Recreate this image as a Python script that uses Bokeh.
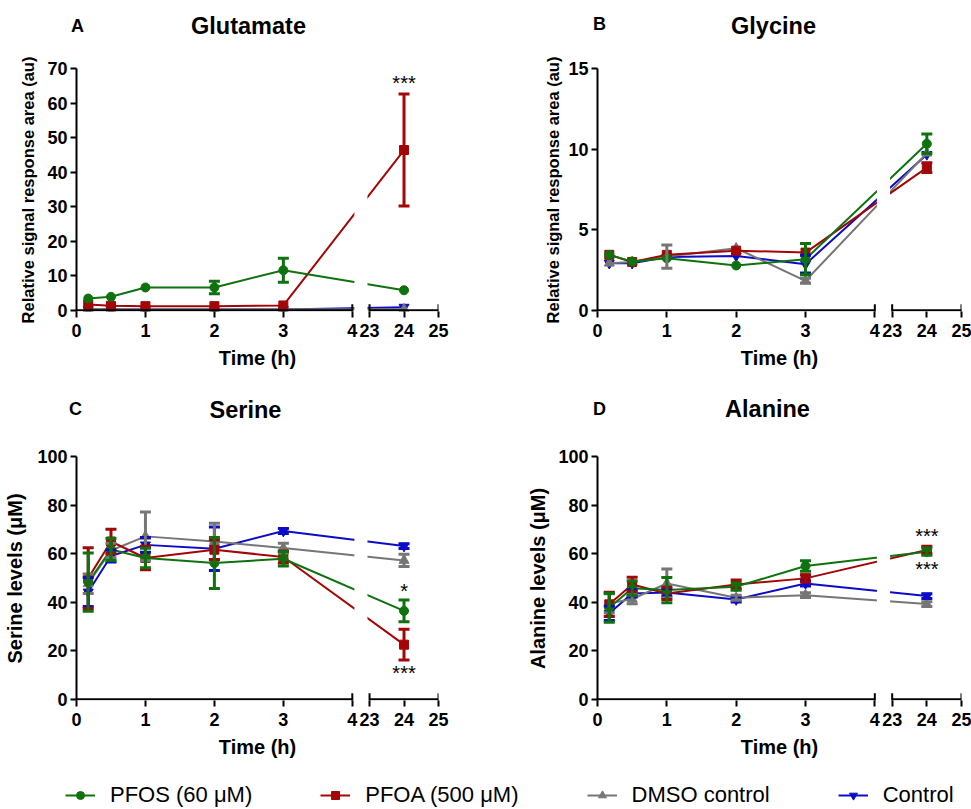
import math
from bokeh.plotting import figure
from bokeh.models import (Range1d, FixedTicker, Whisker, TeeHead,
                          ColumnDataSource, Legend, LegendItem)
from bokeh.layouts import column, row
from bokeh.embed import file_html
from bokeh.resources import INLINE
from bokeh.core.properties import value

FONT = "Liberation Sans"

# ---------------- data ----------------
TIMES = [0.17, 0.5, 1, 2, 3, 24]
X_TICKS = [0, 1, 2, 3, 4, 23, 24, 25]
SERIES = ["PFOS (60 μM)", "PFOA (500 μM)", "DMSO control", "Control"]
COLORS = ["#0e720e", "#a30606", "#767676", "#0c0cc8"]
MARKERS = ["circle", "square", "triangle", "inverted_triangle"]

# Glutamate (au)
glu_pfos = [3.4, 3.9, 6.6, 6.6, 11.6, 5.8]
glu_pfos_err = [0, 0, 0, 1.8, 3.5, 0]
glu_pfoa = [1.7, 1.3, 1.2, 1.2, 1.4, 46.4]
glu_pfoa_err = [0, 0, 0, 0, 0, 16.2]
glu_dmso = [0.3, 0.3, 0.3, 0.3, 0.3, 0.3]
glu_dmso_err = [0, 0, 0, 0, 0, 0]
glu_ctrl = [0.2, 0.2, 0.2, 0.2, 0.2, 0.9]
glu_ctrl_err = [0, 0, 0, 0, 0, 0]

# Glycine (au)
gly_pfos = [3.44, 3.02, 3.23, 2.78, 3.17, 10.33]
gly_pfos_err = [0, 0, 0, 0, 0.97, 0.6]
gly_pfoa = [3.44, 3.0, 3.44, 3.7, 3.58, 8.85]
gly_pfoa_err = [0, 0, 0, 0, 0, 0.3]
gly_dmso = [2.92, 3.0, 3.33, 3.85, 1.83, 9.75]
gly_dmso_err = [0, 0, 0.72, 0, 0.15, 0]
gly_ctrl = [2.92, 2.92, 3.3, 3.37, 2.86, 9.67]
gly_ctrl_err = [0, 0, 0, 0, 0.55, 0]

# Serine (uM)
ser_pfos = [48.3, 61.7, 58.2, 56.1, 57.9, 36.4]
ser_pfos_err = [12, 4.5, 4, 10.5, 3, 4.5]
ser_pfoa = [49.9, 65.0, 58.2, 61.6, 58.6, 22.5]
ser_pfoa_err = [12.5, 5, 4.8, 4, 2.5, 6.3]
ser_dmso = [47.6, 61.3, 67.1, 65.0, 62.3, 57.2]
ser_dmso_err = [4, 3, 10, 7.5, 2, 2.5]
ser_ctrl = [44.2, 59.0, 63.6, 62.0, 69.3, 63.1]
ser_ctrl_err = [6, 2.5, 3, 9, 1, 1]

# Alanine (uM)
ala_pfos = [37.7, 45.7, 45.0, 46.4, 54.9, 60.8]
ala_pfos_err = [6, 3, 5.2, 1.5, 2.2, 1.5]
ala_pfoa = [39.1, 47.3, 43.6, 47.3, 49.8, 61.5]
ala_pfoa_err = [5, 3, 2.5, 1.8, 1.5, 1.5]
ala_dmso = [39.5, 41.3, 47.7, 41.8, 42.9, 39.2]
ala_dmso_err = [4, 2, 6, 1, 1, 1]
ala_ctrl = [35.4, 43.6, 44.0, 41.1, 47.7, 42.5]
ala_ctrl_err = [3, 1.5, 1.5, 1, 1, 1]

# significance marks (time, y, text)
glu_stars = ([24], [66.1], ["***"])
ser_stars = ([24, 24], [45.1, 11.2], ["*", "***"])
ala_stars = ([24, 24], [67.7, 54.2], ["***", "***"])

# panel headings (letter, title)
ROW1_HEAD = ["A", "Glutamate", "B", "Glycine"]
ROW2_HEAD = ["C", "Serine", "D", "Alanine"]

# ---------------- broken time axis ----------------
GAP = 0.25
RSCALE = 0.5


def tx(t):
    return t if t <= 4 else 4 + GAP + (t - 23) * RSCALE


XMAX = tx(25)
FULL_LEFT = 65   # shared left border of the full-width strips (heading/legend)


def make_panel(ylabel, ylabel_size, ylabel_standoff, ymax, yticks,
               series, stars, width, height, bleft, bright, btop, bbottom):
    ystart = -ymax * 0.005
    p = figure(width=width, height=height, x_range=Range1d(0, XMAX),
               y_range=Range1d(ystart, ymax), output_backend="svg",
               toolbar_location=None, min_border_left=bleft,
               min_border_right=bright, min_border_top=btop,
               min_border_bottom=bbottom)
    p.outline_line_color = None
    p.grid.visible = False

    xs = [tx(t) for t in TIMES]
    for i in [3, 2, 1, 0]:
        vals, errs = series[i]
        c = COLORS[i]
        p.line(xs, vals, line_color=c, line_width=2)
        ex = [x for x, e in zip(xs, errs) if e > 0]
        ey = [v for v, e in zip(vals, errs) if e > 0]
        ee = [e for e in errs if e > 0]
        if ex:
            src = ColumnDataSource(dict(x=ex, lo=[v - e for v, e in zip(ey, ee)],
                                        hi=[v + e for v, e in zip(ey, ee)]))
            w = Whisker(source=src, base="x", lower="lo", upper="hi",
                        dimension="height", line_color=c, line_width=3,
                        upper_head=TeeHead(size=11, line_color=c, line_width=3),
                        lower_head=TeeHead(size=11, line_color=c, line_width=3))
            w.level = "glyph"
            p.add_layout(w)
        sz = 9 if MARKERS[i] in ("circle", "square") else 10
        p.scatter(xs, vals, marker=MARKERS[i], size=sz, fill_color=c, line_color=c)

    # white gap through the lines at the axis break
    p.quad(left=[4 + 0.03], right=[4 + GAP - 0.03], bottom=[ystart], top=[ymax],
           fill_color="white", line_color=None)
    # broken x axis line
    p.segment(x0=[0, tx(23)], x1=[4, tx(25)], y0=[0, 0], y1=[0, 0],
              line_color="black", line_width=2)
    p.scatter([4, tx(23), tx(25)], [0, 0, 0], marker="dash", angle=math.pi / 2,
              size=12, line_color="black", line_width=2)

    st, sy, stxt = stars
    if st:
        p.text([tx(t) for t in st], sy, text=stxt, text_align="center",
               text_baseline="middle", text_font=value(FONT),
               text_font_size="20px", text_color="black", y_offset=1)

    xa = p.xaxis[0]
    xa.ticker = FixedTicker(ticks=[tx(t) for t in X_TICKS])
    xa.major_label_overrides = {tx(t): str(t) for t in X_TICKS}
    xa.axis_line_color = None
    xa.major_tick_in = 0
    xa.major_tick_out = 6
    xa.major_tick_line_width = 2
    xa.major_tick_line_color = "black"
    xa.minor_tick_line_color = None
    xa.major_label_text_font = FONT
    xa.major_label_text_font_style = "bold"
    xa.major_label_text_font_size = "18px"
    xa.major_label_text_color = "black"
    xa.major_label_standoff = 6
    xa.axis_label = "Time (h)"
    xa.axis_label_text_font = FONT
    xa.axis_label_text_font_style = "bold"
    xa.axis_label_text_font_size = "20px"
    xa.axis_label_text_color = "black"
    xa.axis_label_standoff = 7

    ya = p.yaxis[0]
    ya.ticker = FixedTicker(ticks=yticks)
    ya.axis_line_width = 2
    ya.axis_line_color = "black"
    ya.major_tick_in = 0
    ya.major_tick_out = 6
    ya.major_tick_line_width = 2
    ya.major_tick_line_color = "black"
    ya.minor_tick_line_color = None
    ya.major_label_text_font = FONT
    ya.major_label_text_font_style = "bold"
    ya.major_label_text_font_size = "18px"
    ya.major_label_text_color = "black"
    ya.major_label_standoff = 3
    ya.axis_label = ylabel
    ya.axis_label_text_font = FONT
    ya.axis_label_text_font_style = "bold"
    ya.axis_label_text_font_size = ylabel_size
    ya.axis_label_text_color = "black"
    ya.axis_label_standoff = ylabel_standoff
    return p


def make_heading(labels, xs, ys, height):
    h = figure(width=971, height=height, x_range=Range1d(FULL_LEFT, 971),
               y_range=Range1d(height, 0), output_backend="svg",
               toolbar_location=None, x_axis_location=None, y_axis_location=None,
               min_border_left=FULL_LEFT, min_border_right=0, min_border_top=0,
               min_border_bottom=0)
    h.outline_line_color = None
    h.grid.visible = False
    sizes = ["18px", "23.5px", "18px", "23.5px"]
    for lab, x, y, s in zip(labels, xs, ys, sizes):
        h.text([x], [y], text=[lab], text_align="center", text_baseline="middle",
               text_font=value(FONT), text_font_style="bold", text_font_size=s,
               text_color="black")
    return h


H1 = make_heading(ROW1_HEAD, [77, 248, 599, 773], [25, 25, 23, 25], 50)

pA = make_panel("Relative signal response area (au)", "16.5px", 7,
                70, list(range(0, 71, 10)),
                [(glu_pfos, glu_pfos_err), (glu_pfoa, glu_pfoa_err),
                 (glu_dmso, glu_dmso_err), (glu_ctrl, glu_ctrl_err)],
                glu_stars, 480, 330, 76, 42, 18, 69)
pB = make_panel("Relative signal response area (au)", "16.5px", 3,
                15, [0, 5, 10, 15],
                [(gly_pfos, gly_pfos_err), (gly_pfoa, gly_pfoa_err),
                 (gly_dmso, gly_dmso_err), (gly_ctrl, gly_ctrl_err)],
                ([], [], []), 491, 330, 117, 10, 18, 69)

H2 = make_heading(ROW2_HEAD, [75, 245, 599, 767], [28, 29, 28, 28], 50)

pC = make_panel("Serine levels (μM)", "20px", 8,
                100, list(range(0, 101, 20)),
                [(ser_pfos, ser_pfos_err), (ser_pfoa, ser_pfoa_err),
                 (ser_dmso, ser_dmso_err), (ser_ctrl, ser_ctrl_err)],
                ser_stars, 480, 332, 76, 42, 26, 62)
pD = make_panel("Alanine levels (μM)", "20px", 6,
                100, list(range(0, 101, 20)),
                [(ala_pfos, ala_pfos_err), (ala_pfoa, ala_pfoa_err),
                 (ala_dmso, ala_dmso_err), (ala_ctrl, ala_ctrl_err)],
                ala_stars, 491, 332, 117, 10, 26, 62)

# ---------------- legend ----------------
pL = figure(width=971, height=46, x_range=Range1d(0, 1), y_range=Range1d(0, 1),
            output_backend="svg", toolbar_location=None, x_axis_location=None,
            y_axis_location=None, min_border_left=FULL_LEFT, min_border_right=0,
            min_border_top=0, min_border_bottom=0)
pL.outline_line_color = None
pL.grid.visible = False
items = []
for i, name in enumerate(SERIES):
    lr = pL.line(x=[-2, -1], y=[-2, -1], line_color=COLORS[i], line_width=2)
    sr = pL.scatter(x=[-2], y=[-2], marker=MARKERS[i], size=9,
                    fill_color=COLORS[i], line_color=COLORS[i])
    items.append(LegendItem(label=name, renderers=[lr, sr]))
leg = Legend(items=items, orientation="horizontal", location="bottom_left",
             spacing=68, glyph_width=30, glyph_height=20, label_standoff=15,
             label_text_font=FONT, label_text_font_size="22px",
             label_text_color="black", border_line_color=None,
             background_fill_alpha=0, padding=0, margin=0)
pL.add_layout(leg)

layout = column(H1, row(pA, pB), H2, row(pC, pD), pL)
open("out.html", "w").write(file_html(layout, INLINE))
